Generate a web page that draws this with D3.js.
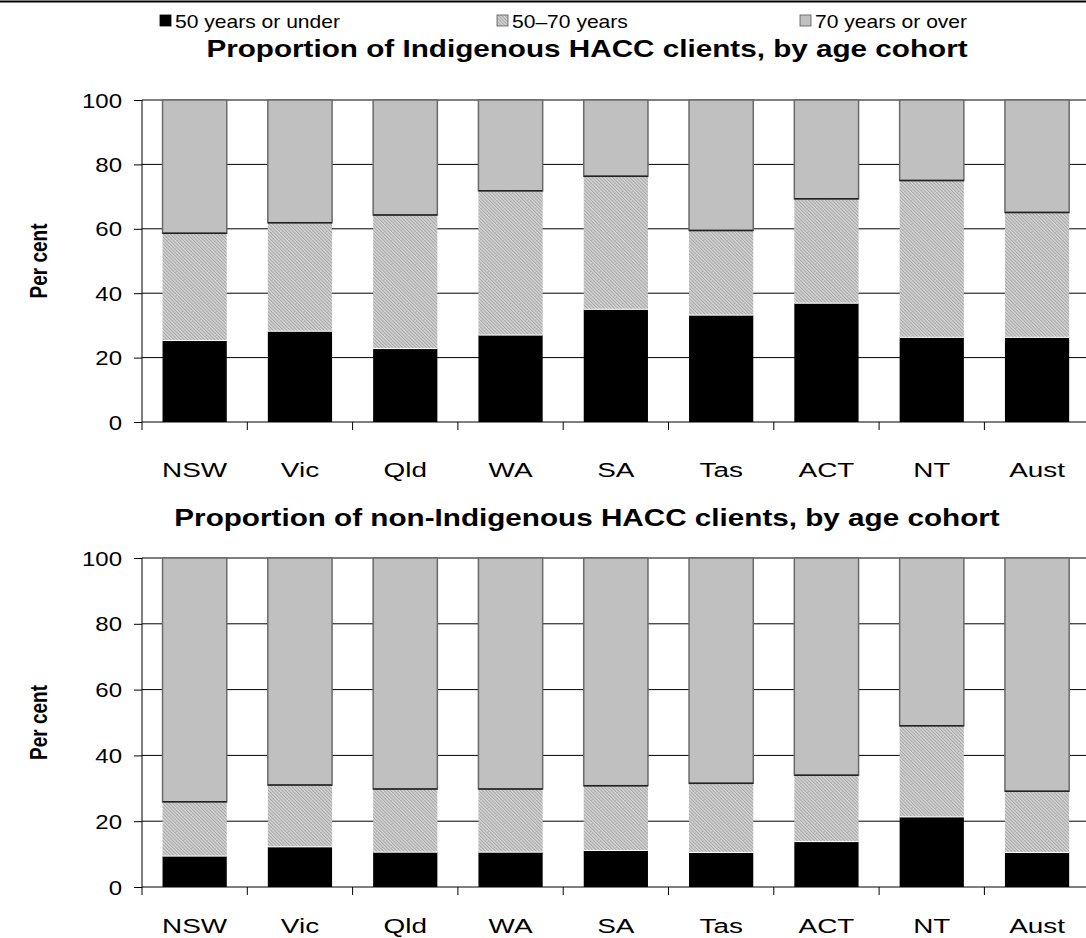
<!DOCTYPE html>
<html><head><meta charset="utf-8">
<script src="https://cdn.jsdelivr.net/npm/d3@7/dist/d3.min.js"></script>
<style>
body{margin:0;background:#fff;}
svg{display:block;font-family:Arial,"Liberation Sans",sans-serif;}
</style></head>
<body>
<svg id="chart" width="1086" height="938"></svg>
<script>
const categories = ["NSW","Vic","Qld","WA","SA","Tas","ACT","NT","Aust"];
const seriesNames = ["50 years or under","50\u201370 years","70 years or over"];
// Indigenous: share aged 50 or under, 50-70, 70 or over
const indigUnder50 = [25.3, 28.2, 22.8, 27.0, 35.0, 33.2, 36.9, 26.3, 26.3];
const indig50to70 = [33.3, 33.7, 41.5, 44.8, 41.3, 26.3, 32.4, 48.7, 38.8];
const indigOver70 = [41.4, 38.1, 35.7, 28.2, 23.7, 40.5, 30.7, 25.0, 34.9];
// non-Indigenous
const nonUnder50 = [9.4, 12.2, 10.6, 10.6, 11.1, 10.5, 13.8, 21.3, 10.5];
const non50to70 = [16.5, 18.8, 19.2, 19.2, 19.7, 21.0, 20.2, 27.7, 18.6];
const nonOver70 = [74.1, 69.0, 70.2, 70.2, 69.2, 68.5, 66.0, 51.0, 70.9];
const yTicks = [0, 20, 40, 60, 80, 100];
const titles = ["Proportion of Indigenous HACC clients, by age cohort",
                "Proportion of non-Indigenous HACC clients, by age cohort"];
const yTitle = "Per cent";

const svg = d3.select("#chart");
const defs = svg.append("defs");
const pat = defs.append("pattern").attr("id","hatch").attr("patternUnits","userSpaceOnUse")
  .attr("width",2.4).attr("height",2.4).attr("patternTransform","rotate(-45)");
pat.append("rect").attr("width",2.4).attr("height",2.4).attr("fill","#d6d6d6");
pat.append("rect").attr("width",1).attr("height",2.4).attr("fill","#a4a4a4");

const fills = ["#000000","url(#hatch)","#c0c0c0"];

function stretchedText(parent, x, y, sx, txt){
  return parent.append("text").attr("transform",`translate(${x},${y}) scale(${sx},1)`).text(txt);
}

// top rule
svg.append("line").attr("x1",0).attr("x2",1086).attr("y1",1.5).attr("y2",1.5)
  .attr("stroke","#000").attr("stroke-width",2);

// legend
const legendX = [160, 497, 800];
const lg = svg.append("g");
seriesNames.forEach((n,i)=>{
  lg.append("rect").attr("x",legendX[i]).attr("y",15).attr("width",11).attr("height",11)
    .attr("fill",fills[i]).attr("stroke", i===0?"#000":"#555").attr("stroke-width",0.8);
  stretchedText(lg, legendX[i]+15, 27.5, 1.17, n).attr("font-size",18);
});

const x = d3.scaleBand().domain(categories).range([142,1089.7]).padding(0);
const barW = x.bandwidth()*0.61;

function panel(top, bottom, titleY, labelY, under, mid, over, title){
  const y = d3.scaleLinear().domain([0,100]).range([bottom, top]);
  const g = svg.append("g");
  stretchedText(g, 587, titleY, 1.29, title).attr("text-anchor","middle")
    .attr("font-size",23).attr("font-weight","bold");
  // gridlines
  g.selectAll(".grid").data(yTicks.filter(t=>t>0)).join("line")
    .attr("x1",142).attr("x2",1086).attr("y1",d=>y(d)).attr("y2",d=>y(d))
    .attr("stroke","#000").attr("stroke-width",1);
  // y axis
  const ya = g.append("g").attr("transform","translate(142,0)")
    .call(d3.axisLeft(y).tickValues(yTicks).tickSize(8).tickPadding(0).tickFormat(""));
  ya.select(".domain").remove();
  ya.selectAll(".tick line").attr("stroke","#000");
  ya.selectAll(".tick").each(function(d){
    stretchedText(d3.select(this), -20, 0, 1.2, d3.format("d")(d))
      .attr("text-anchor","end").attr("dy","0.35em").attr("font-size",20)
      .attr("font-family","Arial, Liberation Sans, sans-serif").attr("fill","#000");
  });
  g.append("line").attr("x1",142).attr("x2",142).attr("y1",top).attr("y2",bottom+8).attr("stroke","#000");
  // bars
  const stacks = categories.map((c,i)=>{
    const v=[under[i],mid[i],over[i]]; let acc=0;
    return v.map((val,k)=>{const s={c,k,y0:acc,y1:acc+val}; acc+=val; return s;});
  });
  stacks.forEach(st=>{
    const bx = x(st[0].c)+(x.bandwidth()-barW)/2;
    st.forEach(s=>{
      g.append("rect").attr("x",bx).attr("width",barW)
        .attr("y",y(s.y1)).attr("height",y(s.y0)-y(s.y1))
        .attr("fill",fills[s.k])
        .attr("stroke", s.k===2?"#6a6a6a":"none").attr("stroke-width",1.5);
    });
    g.append("line").attr("x1",bx).attr("x2",bx+barW).attr("y1",y(st[1].y1)).attr("y2",y(st[1].y1))
      .attr("stroke","#222").attr("stroke-width",1.5);
    g.append("line").attr("x1",bx).attr("x2",bx+barW).attr("y1",y(st[0].y1)).attr("y2",y(st[0].y1))
      .attr("stroke","#fff").attr("stroke-width",1);
  });
  // x axis
  g.append("line").attr("x1",142).attr("x2",1086).attr("y1",bottom).attr("y2",bottom).attr("stroke","#000");
  g.selectAll(".xt").data(categories.slice(1)).join("line")
    .attr("x1",d=>x(d)).attr("x2",d=>x(d)).attr("y1",bottom).attr("y2",bottom+8).attr("stroke","#000");
  const xa = g.append("g").attr("transform",`translate(0,${labelY})`)
    .call(d3.axisBottom(x).tickSize(0).tickPadding(0).tickFormat(""));
  xa.select(".domain").remove();
  xa.selectAll(".tick").each(function(d){
    stretchedText(d3.select(this), 0, 0, 1.33, d).attr("text-anchor","middle")
      .attr("font-size",21).attr("font-family","Arial, Liberation Sans, sans-serif").attr("fill","#000");
  });
  // y title
  g.append("text").attr("transform",`translate(47,${(top+bottom)/2}) scale(1.3,1) rotate(-90)`)
    .attr("text-anchor","middle").attr("font-size",19).attr("font-weight","bold").text(yTitle);
}

panel(100, 422, 57, 477, indigUnder50, indig50to70, indigOver70, titles[0]);
panel(558, 887, 526, 933, nonUnder50, non50to70, nonOver70, titles[1]);
</script>
</body></html>
